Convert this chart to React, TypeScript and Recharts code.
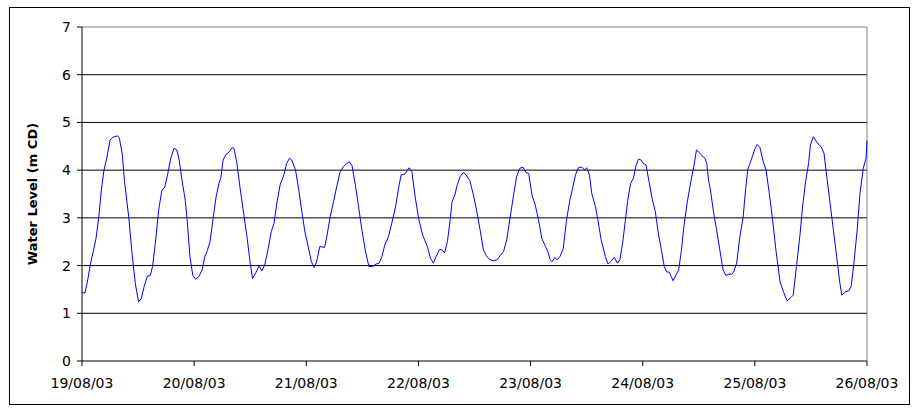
import { LineChart, Line, XAxis, YAxis, CartesianGrid, ReferenceLine } from 'recharts';

// readings as [hours since 19/08/03 00:00, water level m CD]
const DAY1_READINGS = [
  [0, 1.44], [0.6, 1.42], [1.1, 1.63], [1.9, 2.08], [2.4, 2.29], [3.0, 2.57], [3.6, 3.02], [4.1, 3.55],
  [4.7, 4.0], [5.3, 4.25], [6.0, 4.63], [6.6, 4.69], [7.6, 4.72], [8.0, 4.67], [8.6, 4.35], [9.1, 3.76],
  [10.0, 3.02], [10.7, 2.26], [11.4, 1.63], [12.1, 1.24], [12.7, 1.31], [13.3, 1.56], [14.0, 1.78], [14.6, 1.79],
  [15.1, 1.98], [15.7, 2.47], [16.4, 3.16], [17.1, 3.58], [17.7, 3.64], [18.3, 3.9], [19.0, 4.25], [19.7, 4.46],
  [20.3, 4.42], [20.8, 4.21], [21.4, 3.79], [22.1, 3.37], [22.5, 2.96], [23.1, 2.19], [23.7, 1.8],
];
const DAY2_READINGS = [
  [24.3, 1.71], [25.0, 1.77], [25.7, 1.91], [26.3, 2.19], [26.8, 2.31], [27.4, 2.5], [28.1, 3.02], [28.7, 3.44],
  [29.3, 3.72], [29.7, 3.83], [30.2, 4.21], [30.8, 4.33], [31.4, 4.37], [32.1, 4.47], [32.5, 4.46], [33.1, 4.18],
  [33.8, 3.65], [34.5, 3.16], [35.3, 2.61], [36.0, 2.05], [36.5, 1.73], [37.2, 1.85], [37.9, 1.99], [38.5, 1.89],
  [39.1, 2.01], [39.8, 2.33], [40.5, 2.71], [41.1, 2.89], [41.7, 3.31], [42.4, 3.69], [43.2, 3.9], [43.8, 4.14],
  [44.4, 4.25], [44.9, 4.21], [45.7, 4.0], [46.4, 3.58], [47.1, 3.1], [47.7, 2.71],
];
const DAY3_READINGS = [
  [48.4, 2.4], [49.1, 2.08], [49.7, 1.96], [50.2, 2.08], [50.9, 2.4], [51.9, 2.38], [52.4, 2.61], [53.1, 3.02],
  [53.9, 3.37], [54.5, 3.65], [55.2, 3.95], [55.9, 4.07], [56.7, 4.14], [57.2, 4.18], [57.8, 4.09], [58.5, 3.69],
  [59.2, 3.23], [59.9, 2.75], [60.6, 2.33], [61.4, 1.98], [62.2, 1.98], [62.9, 2.03], [63.6, 2.05], [64.2, 2.19],
  [64.8, 2.43], [65.6, 2.61], [66.3, 2.89], [67.1, 3.23], [67.8, 3.65], [68.3, 3.9], [69.1, 3.92], [69.6, 3.99],
  [70.0, 4.05], [70.6, 3.97], [71.3, 3.44],
];
const DAY4_READINGS = [
  [72.1, 2.96], [72.9, 2.64], [73.9, 2.4], [74.6, 2.15], [75.2, 2.05], [75.8, 2.19], [76.5, 2.34], [77.0, 2.33],
  [77.6, 2.27], [78.2, 2.5], [78.8, 2.96], [79.2, 3.34], [79.8, 3.48], [80.3, 3.69], [80.9, 3.86], [81.6, 3.95],
  [82.2, 3.9], [83.0, 3.78], [83.7, 3.51], [84.5, 3.13], [85.2, 2.75], [85.9, 2.33], [86.5, 2.21], [87.2, 2.13],
  [88.0, 2.1], [88.8, 2.12], [89.5, 2.21], [90.2, 2.29], [90.9, 2.54], [91.6, 2.99], [92.3, 3.44], [93.0, 3.86],
  [93.7, 4.04], [94.4, 4.06], [95.0, 3.95], [95.6, 3.93],
];
const DAY5_READINGS = [
  [96.3, 3.48], [97.0, 3.27], [97.7, 2.96], [98.4, 2.57], [99.2, 2.4], [99.7, 2.29], [100.2, 2.12], [100.6, 2.08],
  [101.2, 2.17], [101.7, 2.12], [102.3, 2.19], [103.0, 2.36], [103.7, 2.96], [104.4, 3.37], [105.0, 3.62], [105.6, 3.9],
  [106.3, 4.06], [107.0, 4.06], [107.6, 4.0], [108.0, 4.05], [108.6, 3.9], [109.1, 3.51], [109.9, 3.23], [110.4, 2.96],
  [111.1, 2.54], [112.0, 2.19], [112.6, 2.03], [113.1, 2.08], [113.9, 2.17], [114.6, 2.05], [115.1, 2.12], [115.7, 2.47],
  [116.3, 2.96], [116.8, 3.37], [117.4, 3.72], [118.0, 3.83], [118.6, 4.11], [119.1, 4.23], [119.7, 4.21],
];
const DAY6_READINGS = [
  [120.1, 4.14], [120.7, 4.11], [121.3, 3.79], [122.0, 3.41], [122.7, 3.13], [123.4, 2.64], [124.0, 2.33], [124.6, 1.98],
  [125.1, 1.87], [125.7, 1.86], [126.1, 1.77], [126.5, 1.68], [127.1, 1.8], [127.7, 1.91], [128.3, 2.33], [128.8, 2.81],
  [129.5, 3.31], [130.3, 3.76], [131.0, 4.11], [131.5, 4.42], [132.1, 4.37], [132.7, 4.3], [133.3, 4.25], [133.7, 4.14],
  [134.1, 3.79], [134.5, 3.58], [135.1, 3.16], [135.8, 2.75], [136.5, 2.33], [137.2, 1.91], [137.8, 1.79], [138.4, 1.82],
  [139.0, 1.82], [139.4, 1.85], [140.1, 2.05], [140.8, 2.61], [141.5, 3.02], [142.0, 3.58], [142.5, 4.02], [143.2, 4.21],
];
const DAY7_READINGS = [
  [144.0, 4.44], [144.5, 4.54], [145.1, 4.47], [145.7, 4.21], [146.4, 4.0], [147.1, 3.51], [147.8, 2.96], [148.5, 2.33],
  [149.4, 1.66], [150.2, 1.43], [150.9, 1.26], [151.7, 1.33], [152.2, 1.38], [152.9, 1.98], [153.7, 2.68], [154.2, 3.23],
  [154.9, 3.79], [155.5, 4.14], [155.9, 4.53], [156.5, 4.7], [157.1, 4.61], [157.7, 4.53], [158.2, 4.49], [158.8, 4.35],
  [159.4, 3.86], [160.1, 3.31], [160.8, 2.75], [161.5, 2.19], [162.2, 1.63], [162.6, 1.38], [163.4, 1.45], [164.1, 1.47],
  [164.6, 1.56], [165.2, 2.05], [165.9, 2.75], [166.5, 3.51], [167.2, 4.04], [167.8, 4.25], [168.0, 4.62],
];

const DATE_LABELS = ['19/08/03', '20/08/03', '21/08/03', '22/08/03', '23/08/03', '24/08/03', '25/08/03', '26/08/03'];
const LEVEL_TICKS = [0, 1, 2, 3, 4, 5, 6, 7];
const GRID_LEVELS = [1, 2, 3, 4, 5, 6];

const HOUR_TICKS = DATE_LABELS.map((_, i) => i * 24);

const data = [
  ...DAY1_READINGS,
  ...DAY2_READINGS,
  ...DAY3_READINGS,
  ...DAY4_READINGS,
  ...DAY5_READINGS,
  ...DAY6_READINGS,
  ...DAY7_READINGS,
].map(([hour, level]) => ({ hour, level }));

const FONT = '"DejaVu Sans", "Liberation Sans", Arial, sans-serif';

function AxisTitle({ viewBox }: { viewBox?: { x: number; y: number; width: number; height: number } }) {
  if (!viewBox) return null;
  const x = viewBox.x + 22;
  const y = viewBox.y + viewBox.height / 2;
  return (
    <text
      x={x}
      y={y}
      transform={`rotate(-90 ${x} ${y})`}
      textAnchor="middle"
      dominantBaseline="central"
      fontFamily={FONT}
      fontWeight="bold"
      fontSize={13}
      fill="#000"
    >
      Water Level (m CD)
    </text>
  );
}

export default function App() {
  return (
    <div
      style={{
        position: 'absolute',
        left: 9,
        top: 7,
        width: 901,
        height: 398,
        border: '1px solid #000',
        boxSizing: 'border-box',
        background: '#fff',
      }}
    >
      <LineChart width={899} height={396} data={data} margin={{ top: 19, right: 42, bottom: 0, left: 0 }}>
        <CartesianGrid vertical={false} horizontalValues={GRID_LEVELS} stroke="#000" />
        <XAxis
          dataKey="hour"
          type="number"
          domain={[0, 168]}
          ticks={HOUR_TICKS}
          interval={0}
          tickFormatter={(v: number) => DATE_LABELS[Math.round(v / 24)]}
          height={43}
          axisLine={{ stroke: '#000' }}
          tickLine={{ stroke: '#000' }}
          tickSize={5}
          tickMargin={12}
          tick={{ fill: '#000', fontSize: 14, fontFamily: FONT }}
        />
        <YAxis
          type="number"
          domain={[0, 7]}
          ticks={LEVEL_TICKS}
          interval={0}
          width={72}
          axisLine={{ stroke: '#000' }}
          tickLine={{ stroke: '#000' }}
          tickSize={5}
          tickMargin={6}
          tick={{ fill: '#000', fontSize: 14, fontFamily: FONT }}
          label={<AxisTitle />}
        />
        <ReferenceLine y={7} stroke="#808080" />
        <ReferenceLine x={168} stroke="#808080" />
        <Line
          type="linear"
          dataKey="level"
          stroke="#0000ff"
          strokeWidth={1}
          dot={false}
          isAnimationActive={false}
        />
      </LineChart>
    </div>
  );
}
